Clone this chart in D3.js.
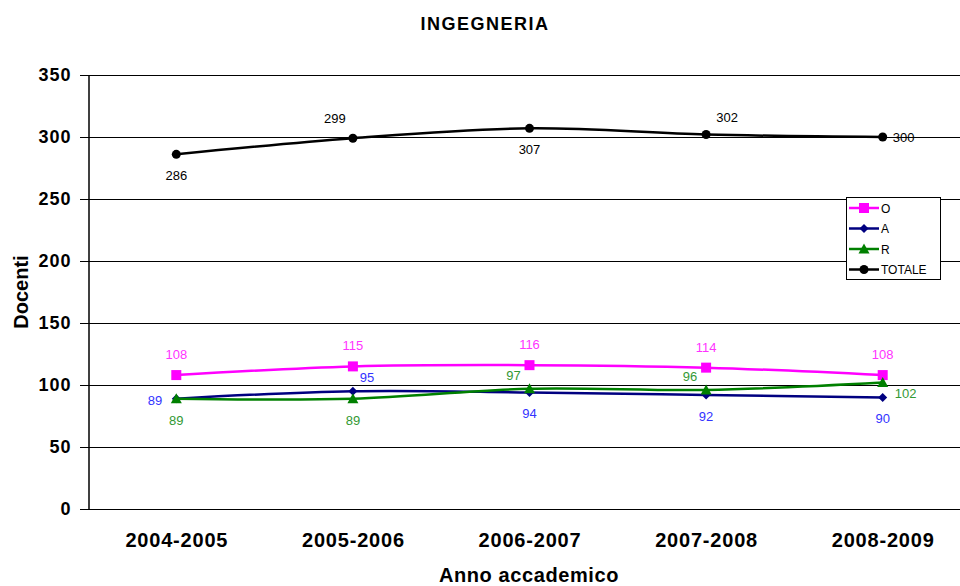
<!DOCTYPE html>
<html>
<head>
<meta charset="utf-8">
<script src="https://cdn.jsdelivr.net/npm/d3@7"></script>
<style>
  body { margin: 0; background: #fff; }
  svg { font-family: Arial, "Liberation Sans", sans-serif; }
</style>
</head>
<body>
<svg id="chart" width="960" height="586"></svg>
<script>
// data
var anni = ["2004-2005", "2005-2006", "2006-2007", "2007-2008", "2008-2009"];
var valoriO = [108, 115, 116, 114, 108];
var valoriA = [89, 95, 94, 92, 90];
var valoriR = [89, 89, 97, 96, 102];
var valoriTotale = [286, 299, 307, 302, 300];
var yTicks = [0, 50, 100, 150, 200, 250, 300, 350];

// where each data label sits relative to its point
var posO = ["above", "above", "above", "above", "above"];
var posA = ["left", "aboveright", "below", "below", "below"];
var posR = ["below", "below", "aboveleft", "aboveleft", "belowright"];
var posTotale = ["below", "topleft", "below", "topright", "right"];

var series = [
    {name: "O", values: valoriO, pos: posO, color: "#ff00ff", label: "#ff33ff", marker: "square"},
    {name: "A", values: valoriA, pos: posA, color: "#000080", label: "#3333ff", marker: "diamond"},
    {name: "R", values: valoriR, pos: posR, color: "#008000", label: "#339933", marker: "triangle"},
    {name: "TOTALE", values: valoriTotale, pos: posTotale, color: "#000000", label: "#000000", marker: "circle"}
];

var svg = d3.select("#chart");
var plotLeft = 88, plotRight = 971, plotTop = 75, plotBottom = 509;

var x = d3.scalePoint()
    .domain(anni)
    .range([plotLeft, plotRight])
    .padding(0.5);

var y = d3.scaleLinear()
    .domain([0, 350])
    .range([plotBottom, plotTop]);

// gridlines
svg.append("g")
    .selectAll("line")
    .data(yTicks)
    .enter().append("line")
    .attr("x1", plotLeft - 8)
    .attr("x2", 960)
    .attr("y1", function(d) { return Math.round(y(d)) + 0.5; })
    .attr("y2", function(d) { return Math.round(y(d)) + 0.5; })
    .attr("stroke", "#000")
    .attr("stroke-width", 1);

// y axis
var yAxis = svg.append("g")
    .attr("transform", "translate(" + (plotLeft + 0.5) + ",0)")
    .call(d3.axisLeft(y).tickValues(yTicks).tickSize(0).tickPadding(17));
yAxis.select(".domain").attr("stroke", "#000").attr("stroke-width", 1.5);
yAxis.selectAll("text")
    .attr("font-size", 18)
    .attr("font-weight", "bold")
    .attr("letter-spacing", 1)
    .attr("fill", "#000")
    .attr("font-family", "Arial, 'Liberation Sans', sans-serif");

// x axis labels
var xAxis = svg.append("g")
    .attr("transform", "translate(0," + plotBottom + ")")
    .call(d3.axisBottom(x).tickSize(0).tickPadding(24));
xAxis.select(".domain").remove();
xAxis.selectAll("text")
    .attr("font-size", 20)
    .attr("font-weight", "bold")
    .attr("letter-spacing", 0.8)
    .attr("fill", "#000")
    .attr("font-family", "Arial, 'Liberation Sans', sans-serif");

// titles
svg.append("text")
    .attr("x", 485)
    .attr("y", 30)
    .attr("text-anchor", "middle")
    .attr("font-size", 18)
    .attr("letter-spacing", 1.5)
    .attr("font-weight", "bold")
    .text("INGEGNERIA");

svg.append("text")
    .attr("x", 529)
    .attr("y", 582)
    .attr("text-anchor", "middle")
    .attr("font-size", 20)
    .attr("letter-spacing", 0.6)
    .attr("font-weight", "bold")
    .text("Anno accademico");

svg.append("text")
    .attr("transform", "translate(28,292) rotate(-90)")
    .attr("text-anchor", "middle")
    .attr("font-size", 20)
    .attr("font-weight", "bold")
    .text("Docenti");

var line = d3.line()
    .x(function(d, i) { return x(anni[i]); })
    .y(function(d) { return y(d); })
    .curve(d3.curveCatmullRom.alpha(0.5));

function drawMarker(g, type, color) {
    if (type == "square") {
        g.append("rect").attr("x", -5).attr("y", -5).attr("width", 10).attr("height", 10).attr("fill", color);
    } else if (type == "diamond") {
        g.append("path").attr("d", "M0,-4.5L4.5,0L0,4.5L-4.5,0Z").attr("fill", color);
    } else if (type == "triangle") {
        g.append("path").attr("d", "M0,-5.5L5.5,4.5L-5.5,4.5Z").attr("fill", color);
    } else {
        g.append("circle").attr("r", 4.5).attr("fill", color);
    }
}

var offsets = {
    above: [0, -16, "middle"],
    below: [0, 26, "middle"],
    left: [-14, 6, "end"],
    right: [10, 5, "start"],
    topleft: [-18, -15, "middle"],
    topright: [21, -13, "middle"],
    aboveright: [14, -9, "middle"],
    aboveleft: [-16, -9, "middle"],
    belowright: [23, 15, "middle"]
};

series.forEach(function(s) {
    var g = svg.append("g");
    g.append("path")
        .datum(s.values)
        .attr("d", line)
        .attr("fill", "none")
        .attr("stroke", s.color)
        .attr("stroke-width", 2.5);

    g.selectAll("g.pt")
        .data(s.values)
        .enter().append("g")
        .attr("class", "pt")
        .attr("transform", function(d, i) { return "translate(" + x(anni[i]) + "," + y(d) + ")"; })
        .each(function() { drawMarker(d3.select(this), s.marker, s.color); });

    g.selectAll("text")
        .data(s.values)
        .enter().append("text")
        .attr("x", function(d, i) { return x(anni[i]) + offsets[s.pos[i]][0]; })
        .attr("y", function(d, i) { return y(d) + offsets[s.pos[i]][1]; })
        .attr("text-anchor", function(d, i) { return offsets[s.pos[i]][2]; })
        .attr("font-size", 13)
        .attr("fill", s.label)
        .text(function(d) { return d; });
});

// legend
var legend = svg.append("g").attr("transform", "translate(846,197)");
legend.append("rect")
    .attr("x", 0.5).attr("y", 0.5)
    .attr("width", 94).attr("height", 82)
    .attr("fill", "#fff")
    .attr("stroke", "#000");

var items = legend.selectAll("g.item")
    .data(series)
    .enter().append("g")
    .attr("class", "item")
    .attr("transform", function(d, i) { return "translate(0," + (11 + i * 20.5) + ")"; });

items.append("line")
    .attr("x1", 3).attr("x2", 33)
    .attr("stroke", function(d) { return d.color; })
    .attr("stroke-width", 2.5);
items.append("g")
    .attr("transform", "translate(18,0)")
    .each(function(d) { drawMarker(d3.select(this), d.marker, d.color); });
items.append("text")
    .attr("x", 35)
    .attr("y", 4.5)
    .attr("font-size", 12)
    .text(function(d) { return d.name; });
</script>
</body>
</html>
